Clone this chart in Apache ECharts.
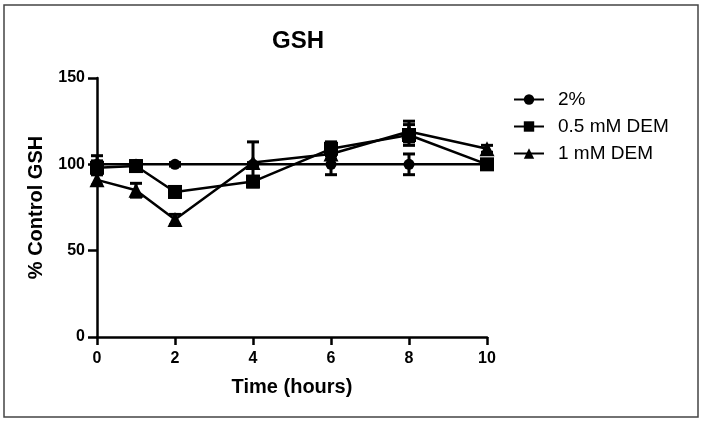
<!DOCTYPE html>
<html>
<head>
<meta charset="utf-8">
<script src="https://cdn.jsdelivr.net/npm/echarts@6/dist/echarts.min.js"></script>
<style>
  body { margin: 0; background: #fff; }
  #main { width: 704px; height: 424px; }
</style>
</head>
<body>
<div id="main"></div>
<script>
// time points (hours)
var hours = [0, 1, 2, 4, 6, 8, 10];

// mean % control GSH
var ctrl = [100, 100, 100, 100, 100, 100, 100];
var dem05 = [98, 99, 84, 90, 109, 117, 100];
var dem1 = [91, 85, 68, 101, 106, 119, 109];

// error (+/-)
var ctrlErr = [5, 1, 1, 1, 6, 6, 1];
var dem05Err = [4, 3, 3, 3, 4, 6, 2];
var dem1Err = [3, 4, 3, 12, 3, 6, 2];

var names = ['2%', '0.5 mM DEM', '1 mM DEM'];
var yTicks = [0, 50, 100, 150];
var xTicks = [0, 2, 4, 6, 8, 10];

function pts(vals) {
  return hours.map(function (h, i) { return [h, vals[i]]; });
}
function errPts(vals, err) {
  return hours.map(function (h, i) { return [h, vals[i] - err[i], vals[i] + err[i]]; });
}

function errorBar(params, api) {
  var lo = api.coord([api.value(0), api.value(1)]);
  var hi = api.coord([api.value(0), api.value(2)]);
  var w = 6;
  var st = { stroke: '#000', lineWidth: 3 };
  return {
    type: 'group',
    children: [
      { type: 'line', shape: { x1: lo[0], y1: lo[1], x2: hi[0], y2: hi[1] }, style: st },
      { type: 'line', shape: { x1: lo[0] - w, y1: lo[1], x2: lo[0] + w, y2: lo[1] }, style: st },
      { type: 'line', shape: { x1: hi[0] - w, y1: hi[1], x2: hi[0] + w, y2: hi[1] }, style: st }
    ]
  };
}

function lineSeries(name, vals, sym, size) {
  return {
    name: name,
    type: 'line',
    data: pts(vals),
    symbol: sym,
    symbolSize: size,
    showAllSymbol: true,
    lineStyle: { color: '#000', width: 2.5 },
    itemStyle: { color: '#000', borderWidth: 0 },
    z: 3
  };
}
function errSeries(vals, err) {
  return {
    type: 'custom',
    renderItem: errorBar,
    data: errPts(vals, err),
    encode: { x: 0, y: [1, 2] },
    z: 2,
    silent: true
  };
}

var chart = echarts.init(document.getElementById('main'));

var option = {
  backgroundColor: '#fff',
  animation: false,
  textStyle: { fontFamily: 'Liberation Sans, Arial, sans-serif', color: '#000' },
  graphic: [{
    type: 'rect',
    shape: { x: 4, y: 5, width: 694, height: 412 },
    style: { fill: 'none', stroke: '#444', lineWidth: 1.5 },
    silent: true
  }],
  title: {
    text: 'GSH',
    left: 293,
    top: 24,
    textAlign: 'center',
    textStyle: { fontSize: 24, fontWeight: 'bold', color: '#000' }
  },
  legend: {
    orient: 'vertical',
    left: 508,
    top: 85,
    itemWidth: 30,
    itemHeight: 13,
    itemGap: 8,
    data: names,
    textStyle: { fontSize: 19, color: '#000', padding: [0, 0, 0, 9] }
  },
  grid: { left: 97, right: 217, top: 78, bottom: 87 },
  xAxis: {
    type: 'value',
    min: 0,
    max: 10,
    interval: 2,
    name: 'Time (hours)',
    nameLocation: 'middle',
    nameGap: 40,
    nameTextStyle: { fontSize: 20, fontWeight: 'bold', color: '#000' },
    axisLine: { show: true, onZero: false, lineStyle: { color: '#000', width: 2.5 } },
    axisTick: { show: true, length: 8, lineStyle: { color: '#000', width: 2.5 } },
    axisLabel: {
      fontSize: 16, fontWeight: 'bold', color: '#000', margin: 14,
      formatter: function (v) { return xTicks.indexOf(v) >= 0 ? String(v) : ''; }
    },
    splitLine: { show: false }
  },
  yAxis: {
    type: 'value',
    min: 0,
    max: 150,
    interval: 50,
    name: '% Control GSH',
    nameLocation: 'middle',
    nameGap: 51,
    nameTextStyle: { fontSize: 20, fontWeight: 'bold', color: '#000' },
    axisLine: { show: true, onZero: false, lineStyle: { color: '#000', width: 2.5 } },
    axisTick: { show: true, length: 9, lineStyle: { color: '#000', width: 2.5 } },
    axisLabel: {
      fontSize: 16, fontWeight: 'bold', color: '#000', margin: 12,
      formatter: function (v) { return yTicks.indexOf(v) >= 0 ? String(v) : ''; }
    },
    splitLine: { show: false }
  },
  series: [
    errSeries(ctrl, ctrlErr),
    errSeries(dem05, dem05Err),
    errSeries(dem1, dem1Err),
    lineSeries(names[0], ctrl, 'circle', 11),
    lineSeries(names[1], dem05, 'rect', 14),
    lineSeries(names[2], dem1, 'triangle', 15)
  ]
};

chart.setOption(option);
</script>
</body>
</html>
